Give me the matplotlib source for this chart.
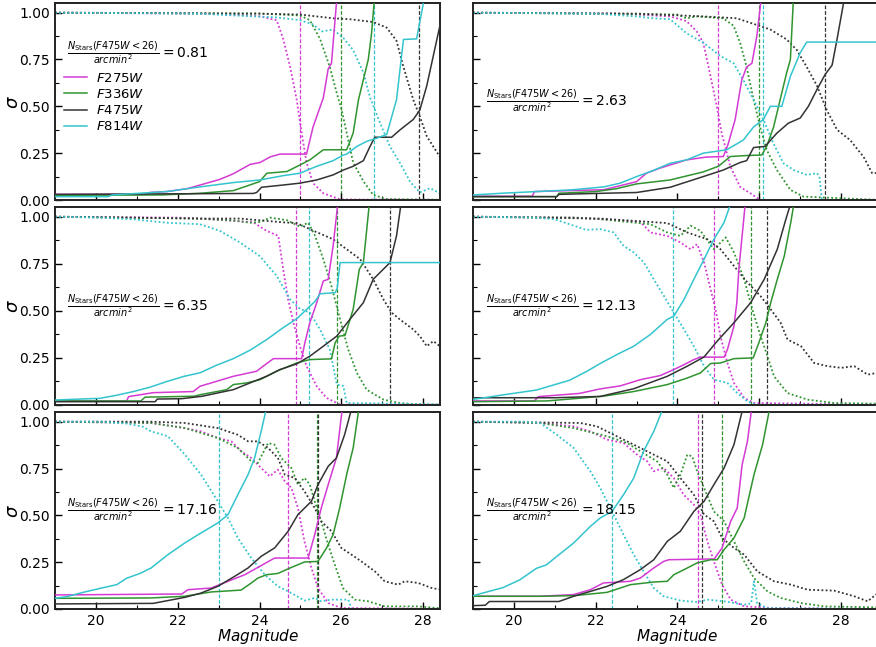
import matplotlib
matplotlib.use("Agg")
import matplotlib.pyplot as plt
from matplotlib.ticker import MultipleLocator, FormatStrFormatter

# ---------------- data ----------------
FILTERS = ["F275W", "F336W", "F475W", "F814W"]
COLORS = {"F275W": "#d43ad4", "F336W": "#2f942f", "F475W": "#333333", "F814W": "#33c4cd"}
DENSITY = ["0.81", "2.63", "6.35", "12.13", "17.16", "18.15"]

# Panel 1 (0.81)
SIGMA_1 = {
    "F275W": ([19, 21.25, 21.32, 21.73, 22.22, 22.55, 23.03, 23.36, 23.77, 24.01, 24.26, 24.5, 25.15, 25.31, 25.56, 25.68, 25.76, 25.9],
              [0.03, 0.03, 0.04, 0.045, 0.06, 0.08, 0.11, 0.14, 0.19, 0.2, 0.23, 0.245, 0.245, 0.39, 0.545, 0.7, 0.73, 1.1]),
    "F336W": ([19, 21.6, 22.55, 23.36, 24.0, 24.18, 24.67, 24.99, 25.23, 25.56, 26.13, 26.29, 26.42, 26.54, 26.66, 26.74, 26.82],
              [0.025, 0.027, 0.036, 0.05, 0.098, 0.143, 0.152, 0.187, 0.214, 0.268, 0.268, 0.357, 0.535, 0.643, 0.75, 0.89, 1.1]),
    "F475W": ([19, 23.85, 23.93, 24.05, 24.58, 24.99, 25.4, 25.8, 26.05, 26.29, 26.54, 26.7, 26.82, 27.23, 27.44, 27.76, 27.92, 28.09, 28.25, 28.41, 28.6],
              [0.03, 0.035, 0.04, 0.068, 0.08, 0.09, 0.107, 0.134, 0.16, 0.18, 0.21, 0.285, 0.335, 0.335, 0.375, 0.43, 0.48, 0.61, 0.77, 0.93, 1.1]),
    "F814W": ([19, 20.3, 20.4, 21.73, 22.55, 23.36, 24.01, 24.58, 24.99, 25.4, 25.8, 26.05, 26.13, 26.38, 26.62, 26.87, 27.11, 27.35, 27.52, 27.84, 28.05],
              [0.018, 0.018, 0.027, 0.045, 0.07, 0.093, 0.107, 0.13, 0.143, 0.18, 0.21, 0.24, 0.245, 0.286, 0.313, 0.33, 0.35, 0.535, 0.857, 0.86, 1.1]),
}
COMPL_1 = {
    "F275W": ([19, 22.5, 23.36, 24.01, 24.42, 24.58, 24.75, 24.91, 25.03, 25.15, 25.31, 25.56, 25.97, 29],
              [1.0, 0.995, 0.99, 0.98, 0.96, 0.86, 0.71, 0.535, 0.36, 0.2, 0.09, 0.036, 0.003, 0]),
    "F336W": ([19, 24.0, 24.99, 25.23, 25.48, 25.72, 25.89, 26.01, 26.13, 26.29, 26.54, 26.78, 27.11, 29],
              [1.0, 0.995, 0.985, 0.96, 0.86, 0.71, 0.57, 0.48, 0.36, 0.2, 0.1, 0.027, 0.005, 0]),
    "F475W": ([19, 24.0, 24.99, 25.8, 26.21, 26.78, 27.11, 27.35, 27.52, 27.76, 27.92, 28.09, 28.41, 28.6],
              [1.0, 0.995, 0.99, 0.97, 0.965, 0.95, 0.92, 0.85, 0.71, 0.535, 0.446, 0.34, 0.23, 0.15]),
    "F814W": ([19, 22.5, 23.4, 24.4, 24.99, 25.31, 25.52, 25.8, 26.05, 26.29, 26.54, 26.7, 26.95, 27.19, 27.44, 27.68, 27.92, 28.17, 28.41, 28.6],
              [1.0, 0.995, 0.985, 0.975, 0.96, 0.937, 0.9, 0.91, 0.865, 0.8, 0.68, 0.55, 0.41, 0.285, 0.196, 0.098, 0.04, 0.063, 0.036, 0.03]),
}
VLINE_1 = {"F275W": 25.0, "F336W": 26.0, "F475W": 27.9, "F814W": 26.8}

# Panel 2 (2.63)
SIGMA_2 = {
    "F275W": ([19, 20.45, 20.5, 22.2, 23.0, 23.24, 23.57, 24.22, 24.7, 25.12, 25.24, 25.41, 25.57, 25.69, 25.82, 25.94, 26.06],
              [0.02, 0.02, 0.045, 0.055, 0.098, 0.143, 0.17, 0.214, 0.229, 0.232, 0.3, 0.43, 0.64, 0.71, 0.73, 0.875, 1.1]),
    "F336W": ([19, 21.05, 21.1, 22.0, 22.5, 23.0, 23.82, 24.63, 25.0, 25.29, 25.69, 26.06, 26.18, 26.35, 26.51, 26.67, 26.76, 26.84],
              [0.018, 0.018, 0.036, 0.045, 0.06, 0.086, 0.107, 0.15, 0.18, 0.232, 0.2375, 0.24, 0.286, 0.39, 0.536, 0.68, 0.75, 1.1]),
    "F475W": ([19, 21.05, 21.1, 22.0, 23.0, 23.82, 24.63, 25.12, 25.53, 25.69, 25.86, 26.14, 26.43, 26.71, 27.0, 27.2, 27.41, 27.61, 27.78, 27.9, 28.1],
              [0.018, 0.018, 0.03, 0.035, 0.04, 0.068, 0.125, 0.16, 0.2, 0.21, 0.28, 0.286, 0.357, 0.41, 0.4375, 0.5, 0.59, 0.67, 0.72, 0.857, 1.1]),
    "F814W": ([19, 19.7, 21.4, 22.2, 22.6, 23.0, 23.4, 23.82, 24.22, 24.63, 25.2, 25.61, 25.86, 26.1, 26.27, 26.55, 26.76, 27.0, 27.16, 29.5],
              [0.027, 0.036, 0.054, 0.07, 0.09, 0.125, 0.157, 0.196, 0.214, 0.25, 0.268, 0.32, 0.39, 0.43, 0.5, 0.5, 0.66, 0.786, 0.843, 0.843]),
}
COMPL_2 = {
    "F275W": ([19, 22.5, 23.0, 23.82, 24.22, 24.47, 24.63, 24.76, 24.96, 25.08, 25.29, 25.53, 25.78, 26.02, 29],
              [1.0, 0.995, 0.99, 0.98, 0.955, 0.9, 0.84, 0.71, 0.5, 0.357, 0.18, 0.07, 0.036, 0.0, 0]),
    "F336W": ([19, 24.0, 24.22, 24.47, 25.12, 25.37, 25.53, 25.69, 25.86, 26.02, 26.18, 26.43, 26.76, 27.08, 29],
              [1.0, 0.99, 0.97, 0.98, 0.97, 0.93, 0.84, 0.71, 0.536, 0.39, 0.268, 0.16, 0.054, 0.018, 0.0]),
    "F475W": ([19, 23.0, 24.63, 25.45, 25.86, 26.27, 26.67, 26.92, 27.16, 27.41, 27.65, 27.9, 28.22, 28.55, 28.76, 29.0],
              [1.0, 0.995, 0.98, 0.97, 0.94, 0.91, 0.857, 0.8, 0.71, 0.61, 0.48, 0.375, 0.32, 0.23, 0.143, 0.146]),
    "F814W": ([19, 22.0, 23.0, 23.41, 23.82, 24.22, 24.63, 25.04, 25.37, 25.61, 25.86, 26.1, 26.35, 26.59, 26.84, 27.16, 27.41, 27.47, 27.53, 29],
              [1.0, 0.995, 0.98, 0.97, 0.965, 0.89, 0.84, 0.77, 0.73, 0.64, 0.536, 0.43, 0.30, 0.196, 0.16, 0.134, 0.143, 0.125, 0.0, 0.0]),
}
VLINE_2 = {"F275W": 25.0, "F336W": 26.0, "F475W": 27.6, "F814W": 26.1}

# Panel 3 (6.35)
SIGMA_3 = {
    "F275W": ([19, 20.75, 20.8, 21.4, 22.38, 22.545, 23.36, 23.93, 24.09, 24.34, 25.03, 25.11, 25.23, 25.4, 25.56, 25.68, 25.8, 25.93],
              [0.02, 0.02, 0.043, 0.064, 0.07, 0.098, 0.151, 0.178, 0.205, 0.245, 0.245, 0.33, 0.436, 0.543, 0.658, 0.667, 0.845, 1.1]),
    "F336W": ([19, 21.1, 21.2, 22.4, 22.545, 23.2, 23.36, 23.69, 24.01, 24.42, 24.91, 25.23, 25.76, 25.85, 25.95, 26.09, 26.29, 26.44, 26.54, 26.7],
              [0.02, 0.02, 0.04, 0.045, 0.053, 0.08, 0.107, 0.116, 0.133, 0.178, 0.222, 0.24, 0.244, 0.33, 0.365, 0.368, 0.507, 0.72, 0.756, 1.1]),
    "F475W": ([19, 21.45, 21.5, 22.1, 22.6, 23.36, 24.17, 24.5, 24.91, 25.23, 25.56, 25.89, 26.21, 26.54, 26.78, 27.19, 27.35, 27.48],
              [0.016, 0.016, 0.03, 0.032, 0.045, 0.08, 0.151, 0.187, 0.217, 0.258, 0.311, 0.365, 0.454, 0.543, 0.667, 0.756, 0.898, 1.1]),
    "F814W": ([19, 20.1, 20.5, 20.92, 21.32, 21.73, 22.14, 22.55, 22.95, 23.36, 23.77, 24.18, 24.58, 24.91, 25.15, 25.36, 25.48, 25.85, 25.9, 25.97, 29.5],
              [0.025, 0.034, 0.05, 0.07, 0.093, 0.123, 0.15, 0.17, 0.21, 0.245, 0.29, 0.347, 0.41, 0.457, 0.507, 0.55, 0.59, 0.596, 0.62, 0.756, 0.756]),
}
COMPL_3 = {
    "F275W": ([19, 22.0, 22.545, 23.36, 23.85, 24.17, 24.46, 24.58, 24.7, 24.83, 24.99, 25.15, 25.4, 25.64, 25.97, 29],
              [1.0, 0.995, 0.99, 0.978, 0.97, 0.925, 0.898, 0.72, 0.56, 0.436, 0.31, 0.205, 0.098, 0.036, 0.0, 0.0]),
    "F336W": ([19, 22.5, 23.36, 23.77, 24.01, 24.26, 24.66, 24.99, 25.19, 25.36, 25.56, 25.76, 25.97, 26.17, 26.38, 26.62, 27.03, 27.43, 28.0, 29],
              [1.0, 0.99, 0.98, 0.968, 0.972, 0.995, 0.982, 0.947, 0.968, 0.898, 0.774, 0.63, 0.454, 0.293, 0.17, 0.08, 0.027, 0.009, 0.0, 0]),
    "F475W": ([19, 22.545, 23.52, 24.58, 24.91, 25.32, 25.8, 26.13, 26.46, 26.78, 27.03, 27.23, 27.43, 27.76, 27.92, 28.09, 28.25, 28.41, 28.6],
              [1.0, 0.99, 0.99, 0.97, 0.966, 0.925, 0.88, 0.827, 0.774, 0.667, 0.56, 0.49, 0.454, 0.4, 0.365, 0.311, 0.338, 0.311, 0.3]),
    "F814W": ([19, 20.1, 20.92, 21.73, 22.545, 23.03, 23.52, 24.01, 24.42, 24.75, 24.99, 25.23, 25.48, 25.72, 25.89, 26.05, 26.13, 29],
              [1.0, 0.995, 0.986, 0.968, 0.96, 0.925, 0.863, 0.79, 0.685, 0.56, 0.51, 0.49, 0.40, 0.293, 0.107, 0.1, 0.009, 0.0]),
}
VLINE_3 = {"F275W": 24.9, "F336W": 25.9, "F475W": 27.2, "F814W": 25.2}

# Panel 4 (12.13)
SIGMA_4 = {
    "F275W": ([19, 20.5, 20.6, 21.6, 22.11, 22.6, 23.09, 23.58, 23.91, 24.16, 24.4, 24.56, 25.14, 25.22, 25.38, 25.45, 25.5, 25.58, 25.67],
              [0.02, 0.02, 0.043, 0.06, 0.084, 0.1, 0.133, 0.155, 0.187, 0.213, 0.24, 0.253, 0.253, 0.293, 0.418, 0.543, 0.72, 0.898, 1.1]),
    "F336W": ([19, 20.8, 21.36, 22.18, 22.93, 23.75, 24.24, 24.56, 24.81, 25.05, 25.38, 25.85, 25.99, 26.16, 26.28, 26.44, 26.61, 26.77, 26.87],
              [0.016, 0.02, 0.03, 0.045, 0.07, 0.107, 0.142, 0.169, 0.219, 0.222, 0.245, 0.249, 0.33, 0.436, 0.543, 0.667, 0.79, 0.97, 1.1]),
    "F475W": ([19, 21.0, 22.11, 22.93, 23.75, 24.24, 24.65, 24.97, 25.38, 25.79, 26.12, 26.44, 26.65, 26.81],
              [0.037, 0.037, 0.044, 0.085, 0.151, 0.205, 0.254, 0.338, 0.436, 0.543, 0.667, 0.827, 0.987, 1.1]),
    "F814W": ([19, 19.73, 20.55, 21.36, 21.77, 22.11, 22.52, 22.93, 23.34, 23.75, 23.91, 24.16, 24.4, 24.65, 24.89, 25.14, 25.35],
              [0.028, 0.052, 0.078, 0.13, 0.176, 0.219, 0.267, 0.311, 0.374, 0.454, 0.471, 0.56, 0.667, 0.774, 0.88, 0.97, 1.1]),
}
COMPL_4 = {
    "F275W": ([19, 21.5, 22.11, 23.09, 23.34, 23.75, 24.07, 24.32, 24.48, 24.65, 24.81, 24.93, 25.05, 25.22, 25.38, 25.63, 25.87, 29],
              [1.0, 0.995, 0.987, 0.973, 0.916, 0.898, 0.863, 0.827, 0.854, 0.756, 0.614, 0.507, 0.365, 0.222, 0.116, 0.036, 0.009, 0.0]),
    "F336W": ([19, 21.5, 22.11, 23.34, 23.75, 24.07, 24.32, 24.56, 24.89, 25.18, 25.38, 25.63, 25.83, 26.03, 26.2, 26.36, 26.69, 27.18, 27.83, 29],
              [1.0, 0.995, 0.987, 0.96, 0.916, 0.898, 0.952, 0.925, 0.827, 0.89, 0.81, 0.667, 0.507, 0.365, 0.258, 0.151, 0.062, 0.027, 0.009, 0.005]),
    "F475W": ([19, 22.11, 22.93, 23.75, 24.24, 24.73, 25.05, 25.38, 25.71, 26.03, 26.28, 26.52, 26.69, 27.02, 27.34, 27.67, 28.0, 28.32, 28.65, 28.88, 29.0],
              [1.0, 0.99, 0.978, 0.966, 0.916, 0.88, 0.827, 0.738, 0.65, 0.578, 0.507, 0.436, 0.347, 0.311, 0.222, 0.205, 0.196, 0.205, 0.16, 0.169, 0.17]),
    "F814W": ([19, 20.55, 21.0, 21.77, 22.11, 22.44, 22.68, 22.93, 23.18, 23.42, 23.67, 23.91, 24.16, 24.4, 24.65, 24.89, 25.22, 25.46, 25.71, 25.9, 29],
              [1.0, 0.995, 0.986, 0.93, 0.934, 0.916, 0.845, 0.81, 0.756, 0.667, 0.578, 0.489, 0.4, 0.311, 0.205, 0.133, 0.116, 0.062, 0.018, 0.0, 0.0]),
}
VLINE_4 = {"F275W": 24.9, "F336W": 25.8, "F475W": 26.2, "F814W": 23.9}

# Panel 5 (17.16)
SIGMA_5 = {
    "F275W": ([19, 22.1, 22.25, 22.82, 23.23, 23.64, 23.96, 24.37, 25.19, 25.35, 25.51, 25.68, 25.88, 26.04],
              [0.075, 0.08, 0.103, 0.112, 0.148, 0.183, 0.222, 0.272, 0.272, 0.397, 0.539, 0.664, 0.806, 1.1]),
    "F336W": ([19, 21.35, 22.17, 22.82, 23.55, 23.8, 23.96, 24.17, 24.45, 24.78, 25.1, 25.43, 25.64, 25.8, 25.96, 26.13, 26.29, 26.45],
              [0.057, 0.059, 0.068, 0.091, 0.101, 0.139, 0.165, 0.183, 0.19, 0.222, 0.251, 0.254, 0.326, 0.397, 0.539, 0.717, 0.86, 1.1]),
    "F475W": ([19, 21.4, 21.76, 22.17, 22.57, 22.98, 23.39, 23.72, 24.04, 24.37, 24.7, 24.94, 25.27, 25.43, 25.68, 25.88, 26.08, 26.29],
              [0.027, 0.03, 0.045, 0.062, 0.085, 0.121, 0.174, 0.219, 0.281, 0.326, 0.415, 0.504, 0.575, 0.664, 0.762, 0.806, 0.93, 1.1]),
    "F814W": ([19, 19.29, 19.69, 20.1, 20.51, 20.75, 21.08, 21.35, 21.76, 22.17, 22.57, 22.98, 23.23, 23.47, 23.72, 23.88, 24.04, 24.2],
              [0.057, 0.066, 0.089, 0.11, 0.13, 0.164, 0.19, 0.219, 0.29, 0.352, 0.406, 0.459, 0.504, 0.61, 0.717, 0.806, 0.948, 1.1]),
}
COMPL_5 = {
    "F275W": ([19, 21.35, 22.17, 22.57, 22.98, 23.31, 23.55, 23.8, 24.04, 24.25, 24.45, 24.62, 24.78, 24.94, 25.1, 25.27, 25.43, 25.68, 26.0, 29],
              [1.0, 0.993, 0.966, 0.948, 0.913, 0.895, 0.842, 0.806, 0.753, 0.708, 0.744, 0.681, 0.646, 0.539, 0.361, 0.219, 0.112, 0.032, 0.005, 0.0]),
    "F336W": ([19, 21.35, 22.17, 22.98, 23.47, 23.8, 23.96, 24.21, 24.37, 24.53, 24.78, 24.94, 25.1, 25.23, 25.35, 25.51, 25.68, 25.84, 26.04, 26.33, 26.66, 27.06, 27.88, 28.37, 29],
              [1.0, 0.993, 0.966, 0.913, 0.86, 0.788, 0.78, 0.886, 0.877, 0.806, 0.753, 0.664, 0.7, 0.664, 0.575, 0.468, 0.343, 0.237, 0.112, 0.05, 0.041, 0.014, 0.014, 0.005, 0.005]),
    "F475W": ([19, 21.35, 22.17, 22.98, 23.47, 23.72, 23.96, 24.21, 24.45, 24.62, 24.86, 25.1, 25.35, 25.51, 25.76, 26.0, 26.25, 26.49, 26.82, 27.06, 27.39, 27.55, 27.88, 28.21, 28.45],
              [1.0, 1.0, 0.993, 0.966, 0.93, 0.895, 0.895, 0.86, 0.806, 0.717, 0.7, 0.628, 0.539, 0.468, 0.415, 0.326, 0.29, 0.254, 0.201, 0.148, 0.13, 0.148, 0.139, 0.112, 0.103]),
    "F814W": ([19, 20.1, 20.75, 21.15, 21.35, 21.76, 22.17, 22.57, 22.98, 23.23, 23.47, 23.8, 24.13, 24.45, 24.78, 25.1, 25.35, 25.51, 25.76, 26.17, 26.25, 29],
              [1.0, 1.0, 0.99, 0.973, 0.948, 0.922, 0.826, 0.717, 0.575, 0.486, 0.379, 0.272, 0.183, 0.121, 0.085, 0.045, 0.059, 0.041, 0.05, 0.05, 0.0, 0.0]),
}
VLINE_5 = {"F275W": 24.7, "F336W": 25.4, "F475W": 25.42, "F814W": 23.0}

# Panel 6 (18.15)
SIGMA_6 = {
    "F275W": ([19, 20.64, 21.46, 21.87, 22.19, 22.85, 23.09, 23.42, 23.66, 23.79, 24.81, 24.89, 25.09, 25.3, 25.46, 25.58, 25.71, 25.83],
              [0.068, 0.068, 0.077, 0.103, 0.139, 0.148, 0.165, 0.219, 0.254, 0.263, 0.267, 0.265, 0.326, 0.468, 0.539, 0.77, 0.895, 1.1]),
    "F336W": ([19, 20.64, 21.46, 22.28, 22.85, 23.42, 23.75, 23.91, 24.24, 24.48, 24.81, 24.97, 25.14, 25.38, 25.63, 25.87, 26.08, 26.28],
              [0.068, 0.068, 0.071, 0.089, 0.13, 0.144, 0.148, 0.183, 0.219, 0.246, 0.263, 0.263, 0.317, 0.379, 0.486, 0.717, 0.877, 1.1]),
    "F475W": ([19, 19.3, 19.4, 21.1, 21.46, 21.87, 22.28, 22.68, 23.09, 23.42, 23.75, 24.07, 24.4, 24.65, 24.89, 25.14, 25.38, 25.63],
              [0.018, 0.02, 0.04, 0.04, 0.068, 0.094, 0.121, 0.157, 0.21, 0.263, 0.361, 0.415, 0.521, 0.575, 0.664, 0.753, 0.877, 1.1]),
    "F814W": ([19, 19.73, 20.14, 20.55, 20.79, 21.05, 21.46, 21.87, 22.11, 22.4, 22.68, 22.93, 23.17, 23.42, 23.7],
              [0.071, 0.114, 0.155, 0.217, 0.235, 0.281, 0.352, 0.441, 0.486, 0.521, 0.61, 0.699, 0.842, 0.948, 1.1]),
}
COMPL_6 = {
    "F275W": ([19, 20.64, 21.46, 21.87, 22.28, 22.68, 23.01, 23.26, 23.42, 23.66, 23.91, 24.15, 24.4, 24.56, 24.73, 24.89, 25.09, 25.3, 25.63, 26.36, 29],
              [1.0, 0.993, 0.975, 0.948, 0.904, 0.886, 0.824, 0.788, 0.735, 0.753, 0.699, 0.61, 0.557, 0.504, 0.361, 0.254, 0.13, 0.05, 0.014, 0.005, 0.0]),
    "F336W": ([19, 20.64, 21.46, 22.28, 22.77, 23.09, 23.5, 23.75, 23.91, 24.07, 24.24, 24.36, 24.48, 24.65, 24.89, 25.14, 25.38, 25.63, 25.87, 26.2, 26.52, 27.01, 27.59, 28.81, 29],
              [1.0, 0.993, 0.966, 0.922, 0.886, 0.842, 0.788, 0.717, 0.646, 0.717, 0.824, 0.815, 0.735, 0.646, 0.521, 0.468, 0.361, 0.254, 0.165, 0.094, 0.059, 0.032, 0.014, 0.009, 0.009]),
    "F475W": ([19, 21.62, 22.03, 22.68, 23.09, 23.42, 23.75, 24.07, 24.4, 24.65, 24.89, 25.09, 25.38, 25.63, 25.95, 26.36, 26.77, 27.18, 27.83, 28.32, 28.65, 28.85, 29.0],
              [1.0, 0.993, 0.975, 0.904, 0.86, 0.824, 0.788, 0.699, 0.61, 0.504, 0.468, 0.379, 0.326, 0.29, 0.201, 0.148, 0.13, 0.103, 0.098, 0.068, 0.041, 0.077, 0.08]),
    "F814W": ([19, 20.2, 20.64, 21.05, 21.46, 21.87, 22.11, 22.4, 22.68, 22.93, 23.17, 23.42, 23.66, 24.07, 24.48, 24.73, 25.14, 25.63, 25.8, 25.87, 25.95, 26.2, 29],
              [1.0, 1.0, 0.993, 0.93, 0.86, 0.735, 0.646, 0.521, 0.397, 0.29, 0.201, 0.112, 0.068, 0.045, 0.037, 0.05, 0.041, 0.023, 0.03, 0.148, 0.03, 0.005, 0.0]),
}
VLINE_6 = {"F275W": 24.5, "F336W": 25.1, "F475W": 24.6, "F814W": 22.4}

SIGMAS = [SIGMA_1, SIGMA_2, SIGMA_3, SIGMA_4, SIGMA_5, SIGMA_6]
COMPLS = [COMPL_1, COMPL_2, COMPL_3, COMPL_4, COMPL_5, COMPL_6]
VLINES = [VLINE_1, VLINE_2, VLINE_3, VLINE_4, VLINE_5, VLINE_6]

XTICKS = [20, 22, 24, 26, 28]
YTICKS = [0.0, 0.25, 0.5, 0.75, 1.0]

# ---------------- figure ----------------
W, H = 876, 647
fig = plt.figure(figsize=(W / 100, H / 100), dpi=100)

px_per_mag = 40.9
left_x0, left_w = 55, 385
right_x0, right_w = 473, 408
rows = [(3.3, 200.0), (207.3, 404.7), (412.3, 609.0)]  # top, bottom pixel

axes = []
for r, (top, bot) in enumerate(rows):
    for c in range(2):
        x0, w = (left_x0, left_w) if c == 0 else (right_x0, right_w)
        ax = fig.add_axes([x0 / W, (H - bot) / H, w / W, (bot - top) / H])
        ax.set_xlim(19, 19 + w / px_per_mag)
        ax.set_ylim(0, 1.05)
        axes.append(ax)

for i, ax in enumerate(axes):
    sig, com, vl = SIGMAS[i], COMPLS[i], VLINES[i]
    for f in FILTERS:
        col = COLORS[f]
        ax.axvline(vl[f], color=col, ls=(0, (3, 1.5)), lw=0.9, zorder=1)
    for f in FILTERS:
        col = COLORS[f]
        xs, ys = com[f]
        ax.plot(xs, ys, color=col, ls=(0, (1, 1.3)), lw=1.3, zorder=2)
    for f in FILTERS:
        col = COLORS[f]
        xs, ys = sig[f]
        ax.plot(xs, ys, color=col, ls='-', lw=1.1, zorder=3, label=r'$%s$' % f)

    ax.xaxis.set_major_locator(plt.FixedLocator(XTICKS))
    ax.xaxis.set_minor_locator(MultipleLocator(1))
    ax.yaxis.set_major_locator(plt.FixedLocator(YTICKS))
    ax.yaxis.set_minor_locator(MultipleLocator(0.125))
    ax.tick_params(which='both', direction='in', labelsize=10)
    ax.tick_params(which='major', length=5, width=1)
    ax.tick_params(which='minor', length=3, width=0.8)
    for sp in ax.spines.values():
        sp.set_linewidth(1.4)
        sp.set_color('#222222')

    col_i = i % 2
    row_i = i // 2
    if col_i == 0:
        ax.yaxis.set_major_formatter(FormatStrFormatter('%.2f'))
        ax.set_ylabel(r'$\sigma$', fontsize=13)
        ax.yaxis.set_label_coords(-0.086, 0.5)
    else:
        ax.tick_params(labelleft=False)
    if row_i < 2:
        ax.tick_params(labelbottom=False)
    else:
        ax.set_xlabel(r'$Magnitude$', fontsize=11)
        if col_i == 0:
            ax.xaxis.set_label_coords((258 - left_x0) / left_w, -0.094)
        else:
            ax.xaxis.set_label_coords((677 - right_x0) / right_w, -0.094)

    ty = 0.747 if i == 0 else 0.5
    ax.text(0.031, ty, r'$\frac{N_{\rm Stars}(F475W<26)}{arcmin^2} = %s$' % DENSITY[i],
            transform=ax.transAxes, fontsize=10, va='center', ha='left')

leg = axes[0].legend(loc='upper left', bbox_to_anchor=(0.0, 0.70), frameon=False,
                     fontsize=9.5, handlelength=1.75, handletextpad=0.65, labelspacing=0.25,
                     borderaxespad=0.3)

fig.savefig("out.png", dpi=100)
